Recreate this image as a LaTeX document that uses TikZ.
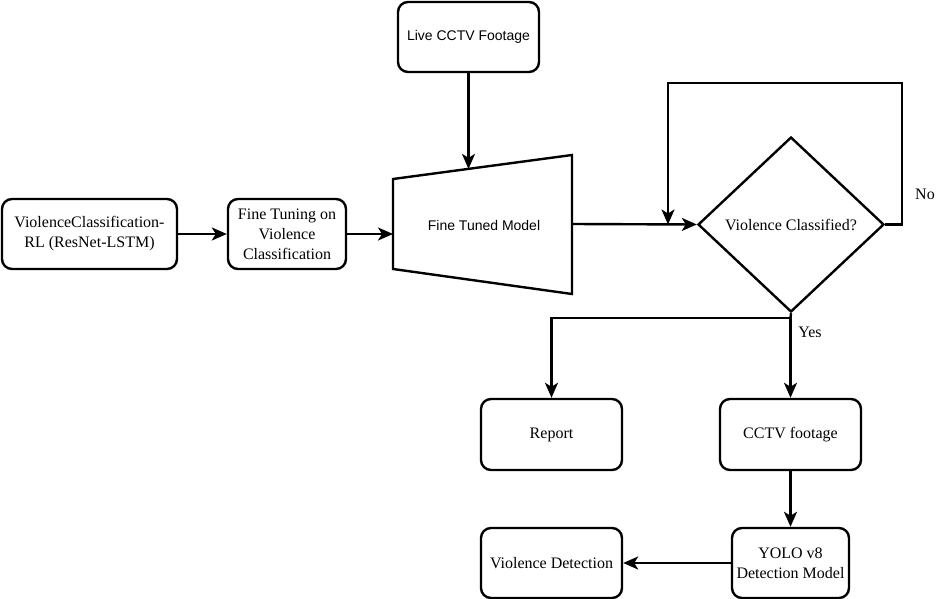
\documentclass[tikz,border=0pt]{standalone}
\usepackage{fontspec}
\setmainfont{Liberation Serif}
\newfontfamily\sansf{Liberation Sans}
\usetikzlibrary{arrows.meta,shapes.geometric,calc}
\begin{document}
\begin{tikzpicture}[x=1pt,y=-1pt,
  box/.style={draw,line width=2.4pt,rounded corners=10pt,inner sep=0pt,align=center,
    font=\fontsize{16}{20}\selectfont},
  sbox/.style={box,font=\sansf\fontsize{14}{17}\selectfont},
  arr/.style={line width=2.4pt,-{Stealth[length=15pt,width=13pt,inset=4pt]}},
  ln/.style={line width=2.4pt},
  lbl/.style={font=\fontsize{16}{20}\selectfont,inner sep=0pt}]
\useasboundingbox (0,0) rectangle (948,599);
\node[box,minimum width=175pt,minimum height=70pt] (b1) at (89.5,234) {ViolenceClassification-\\RL (ResNet-LSTM)};
\node[box,minimum width=118pt,minimum height=70pt] (b2) at (287,234) {Fine Tuning on\\Violence\\Classification};
\node[sbox,minimum width=141pt,minimum height=70pt] (live) at (468.5,37) {Live CCTV Footage};
% trapezoid model
\draw[ln,line join=miter] (393,179) -- (572,155) -- (572,294) -- (393,269) -- cycle;
\node[font=\sansf\fontsize{14}{17}\selectfont,inner sep=0pt] (tm) at (484,225) {Fine Tuned Model};
\coordinate (tmL) at (393,234);
\coordinate (tmR) at (572,224);
\coordinate (tmT) at (468.5,168.9);
\node[draw,diamond,line width=2.4pt,inner sep=0pt,minimum width=186pt,minimum height=175pt,
  font=\fontsize{16}{20}\selectfont] (dia) at (791,224.5) {Violence Classified?};
\node[box,minimum width=141pt,minimum height=71pt] (rep) at (551.5,434.5) {Report};
\node[box,minimum width=141pt,minimum height=71pt] (cctv) at (790.5,434.5) {CCTV footage};
\node[box,minimum width=117pt,minimum height=70pt] (yolo) at (790.5,563) {YOLO v8\\Detection Model};
\node[box,minimum width=141pt,minimum height=70pt] (vd) at (551.5,563) {Violence Detection};
\node[lbl] (no) at (925,194) {No};
\node[lbl] (yes) at (810,332) {Yes};
\coordinate (split) at (790.5,318);
\coordinate (loopin) at (668,224.5);
% connectors
\draw[arr] (b1) -- (b2);
\draw[arr] (b2.east) -- (tmL);
\draw[arr] (live.south) -- (tmT);
\draw[arr] (tmR) -- (dia.west);
\draw[ln] (dia.east) -- (902,224.5) -- (902,83) -- (668,83) -- (668,150);
\draw[arr] (668,150) -- (loopin);
\draw[ln] (dia.south) -- (split);
\draw[arr] (split) -| (rep.north);
\draw[arr] (split) -- (cctv.north);
\draw[arr] (cctv) -- (yolo);
\draw[arr] (yolo) -- (vd);
\end{tikzpicture}
\end{document}
